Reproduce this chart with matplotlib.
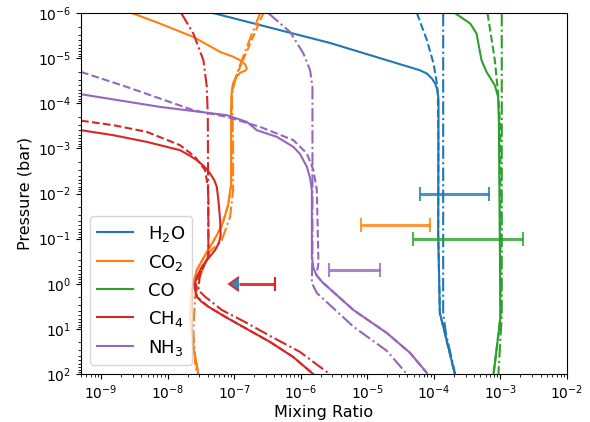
import matplotlib
matplotlib.use("Agg")
import matplotlib.pyplot as plt
import numpy as np

# profiles stored as log10(pressure / bar) and log10(mixing ratio)
# each species: solid, dashed, dash-dot model
h2o_solid_logp = [-6.0, -5.336, -4.731, -4.658, -4.548, -4.437, -4.289, -4.066, -2.96, -1.122, 0.648, 1.091, 2.0]
h2o_solid_logx = [-7.32, -5.56, -4.21, -4.104, -4.029, -3.98, -3.945, -3.93, -3.932, -3.935, -3.91, -3.835, -3.685]
h2o_dash_logp = [-6.0, -5.396, -4.88, -4.437, -4.14, -2.96, -1.122, 0.648, 1.091, 2.0]
h2o_dash_logx = [-4.255, -4.104, -4.005, -3.954, -3.939, -3.932, -3.935, -3.91, -3.835, -3.685]
h2o_dd_logp = [-6.0, 0.65, 1.09, 2.0]
h2o_dd_logx = [-3.86, -3.86, -3.82, -3.68]

co2_solid_logp = [-6.0, -5.765, -5.469, -5.137, -5.041, -4.953, -4.864, -4.769, -4.72, -4.676,
                  -4.577, -4.444, -4.289, -3.846, -2.186, -1.743, -1.3, -0.968, -0.702, -0.304,
                  0.139, 0.73, 1.394, 2.0]
co2_solid_logx = [-8.539, -8.113, -7.613, -7.211, -7.031, -6.911, -6.836, -6.81, -6.836, -6.911,
                  -6.971, -7.016, -7.036, -7.046, -7.046, -7.091, -7.181, -7.302, -7.411, -7.562,
                  -7.637, -7.662, -7.613, -7.538]
co2_dash_logp = [-6.0, -5.323, -4.805, -4.437, -4.178, -3.846, -2.186, -1.743, -1.3, -0.968,
                 -0.702, -0.304, 0.139, 0.73, 1.394, 2.0]
co2_dash_logx = [-6.561, -6.76, -6.911, -7.011, -7.036, -7.046, -7.046, -7.091, -7.181, -7.302,
                 -7.411, -7.562, -7.637, -7.662, -7.613, -7.538]
co2_dd_logp = [-6.0, -5.247, -4.658, -4.216, -3.182, -2.075, -1.484, -0.968, -0.681, -0.155,
               0.287, 1.025, 1.755, 2.0]
co2_dd_logx = [-6.61, -6.81, -6.96, -7.036, -7.016, -7.016, -7.061, -7.186, -7.387, -7.512,
               -7.587, -7.613, -7.587, -7.557]

co_solid_logp = [-6.0, -5.765, -5.544, -4.953, -4.694, -4.399, -4.14, -3.625, 0.737, 1.091, 2.0]
co_solid_logx = [-3.685, -3.453, -3.359, -3.284, -3.209, -3.084, -3.035, -3.024, -3.0, -3.028, -3.103]
co_dash_logp = [-6.0, -4.953, -4.216, -3.403, 0.737, 1.091, 2.0]
co_dash_logx = [-3.194, -3.084, -3.035, -3.0, -3.0, -3.028, -3.103]
co_dd_logp = [-6.0, 0.7, 2.0]
co_dd_logx = [-2.98, -2.98, -3.03]

ch4_solid_logp = [-3.403, -3.292, -3.144, -2.96, -2.85, -2.739, -2.6, -2.444, -2.3, -2.148,
                  -1.853, -1.411, -1.079, -0.9, -0.747, -0.56, -0.377, -0.16, -0.016, 0.13,
                  0.287, 0.4, 0.509, 0.73, 0.98, 1.29, 1.622, 2.0]
ch4_solid_logx = [-9.301, -8.815, -8.313, -7.813, -7.68, -7.562, -7.45, -7.362, -7.3, -7.261,
                  -7.237, -7.211, -7.203, -7.23, -7.286, -7.39, -7.486, -7.56, -7.587, -7.59,
                  -7.562, -7.49, -7.387, -7.136, -6.836, -6.46, -6.114, -5.813]
ch4_dash_logp = [-3.614, -3.514, -3.366, -3.071, -2.812, -2.517, -2.148, -1.853, -0.598, -0.304,
                 -0.016, 0.287, 0.509, 0.73, 0.98, 1.29, 1.622, 2.0]
ch4_dash_logx = [-9.301, -8.815, -8.313, -7.813, -7.587, -7.437, -7.396, -7.387, -7.387, -7.486,
                 -7.572, -7.562, -7.387, -7.136, -6.836, -6.46, -6.114, -5.813]
ch4_dd_logp = [-6.0, -5.544, -4.953, -4.362, -3.698, -0.598, -0.237, 0.139, 0.287, 0.581,
               0.848, 1.157, 1.512, 1.977]
ch4_dd_logx = [-7.796, -7.613, -7.462, -7.411, -7.396, -7.387, -7.512, -7.538, -7.437, -7.186,
               -6.836, -6.46, -6.009, -5.588]

nh3_solid_logp = [-4.2, -3.919, -3.735, -3.587, -3.403, -3.255, -3.033, -2.872, -2.591, -2.341,
                  -2.075, -0.598, -0.347, -0.192, -0.038, 0.582, 1.091, 1.534, 1.977]
nh3_solid_logx = [-9.301, -8.113, -7.111, -6.81, -6.66, -6.359, -6.11, -6.009, -5.908, -5.859,
                  -5.833, -5.833, -5.809, -5.764, -5.678, -5.208, -4.706, -4.356, -4.105]
nh3_dash_logp = [-4.694, -4.362, -3.846, -3.698, -3.476, -3.182, -2.887, -2.518, -2.075, -0.459,
                 -0.192, -0.038, 0.582, 1.091, 1.534, 1.977]
nh3_dash_logx = [-9.301, -8.614, -7.613, -7.111, -6.61, -6.11, -5.908, -5.809, -5.758, -5.734,
                 -5.764, -5.678, -5.208, -4.706, -4.356, -4.105]
nh3_dd_logp = [-6.0, -5.579, -5.101, -4.731, -4.362, -0.747, -0.016, 0.205, 0.951, 1.487, 2.0]
nh3_dd_logx = [-6.49, -6.159, -5.959, -5.859, -5.824, -5.824, -5.833, -5.758, -5.208, -4.706, -4.405]

labels = ['H$_2$O', 'CO$_2$', 'CO', 'CH$_4$', 'NH$_3$']
colors = ['C0', 'C1', 'C2', 'C3', 'C4']

# retrieved abundances (errorbars)
obs_idx = [0, 1, 2, 4]
obs_p = [1e-2, 5e-2, 1e-1, 5e-1]
obs_x = [2.0e-4, 2.7e-5, 3.2e-4, 6.5e-6]
obs_lo = [6.1e-5, 8.0e-6, 4.8e-5, 2.7e-6]
obs_hi = [6.7e-4, 8.8e-5, 2.15e-3, 1.56e-5]

# CH4 upper limit
ch4_lim_p = 1.0
ch4_lim_x = 4.1e-7
ch4_lim_lo = 1.2e-7

profiles = [
    [(h2o_solid_logx, h2o_solid_logp), (h2o_dash_logx, h2o_dash_logp), (h2o_dd_logx, h2o_dd_logp)],
    [(co2_solid_logx, co2_solid_logp), (co2_dash_logx, co2_dash_logp), (co2_dd_logx, co2_dd_logp)],
    [(co_solid_logx, co_solid_logp), (co_dash_logx, co_dash_logp), (co_dd_logx, co_dd_logp)],
    [(ch4_solid_logx, ch4_solid_logp), (ch4_dash_logx, ch4_dash_logp), (ch4_dd_logx, ch4_dd_logp)],
    [(nh3_solid_logx, nh3_solid_logp), (nh3_dash_logx, nh3_dash_logp), (nh3_dd_logx, nh3_dd_logp)],
]
styles = ['-', '--', '-.']

fig = plt.figure(figsize=(5.9, 4.22), dpi=100)
ax = fig.add_axes([0.1373, 0.1137, 0.8237, 0.8555])

for i in range(len(labels)):
    for j, (lx, lp) in enumerate(profiles[i]):
        ax.plot(10 ** np.array(lx), 10 ** np.array(lp), ls=styles[j], color=colors[i],
                lw=1.5, label=labels[i] if j == 0 else None)

for k, i in enumerate(obs_idx):
    ax.errorbar(obs_x[k], obs_p[k],
                xerr=[[obs_x[k] - obs_lo[k]], [obs_hi[k] - obs_x[k]]],
                fmt='none', ecolor=colors[i], elinewidth=2.2, capsize=5, capthick=1.5, alpha=0.8)

ax.errorbar(ch4_lim_x, ch4_lim_p, xerr=[[ch4_lim_x - ch4_lim_lo], [0]], xuplims=True,
            fmt='none', ecolor=colors[3], elinewidth=2.2, capsize=5, capthick=1.5, alpha=0.9)
ax.plot(ch4_lim_x, ch4_lim_p, marker='|', ms=10, mew=1.5, color=colors[3], alpha=0.9)

ax.set_xscale('log')
ax.set_yscale('log')
ax.set_xlim(5e-10, 1e-2)
ax.set_ylim(1e2, 1e-6)
ax.set_xticks([1e-9, 1e-8, 1e-7, 1e-6, 1e-5, 1e-4, 1e-3, 1e-2])
ax.set_yticks([1e-6, 1e-5, 1e-4, 1e-3, 1e-2, 1e-1, 1e0, 1e1, 1e2])
ax.set_xlabel('Mixing Ratio', fontsize=11.5, labelpad=2)
ax.set_ylabel('Pressure (bar)', fontsize=11.5)
ax.legend(loc='lower left', fontsize=13)

fig.savefig('out.png', dpi=100)
